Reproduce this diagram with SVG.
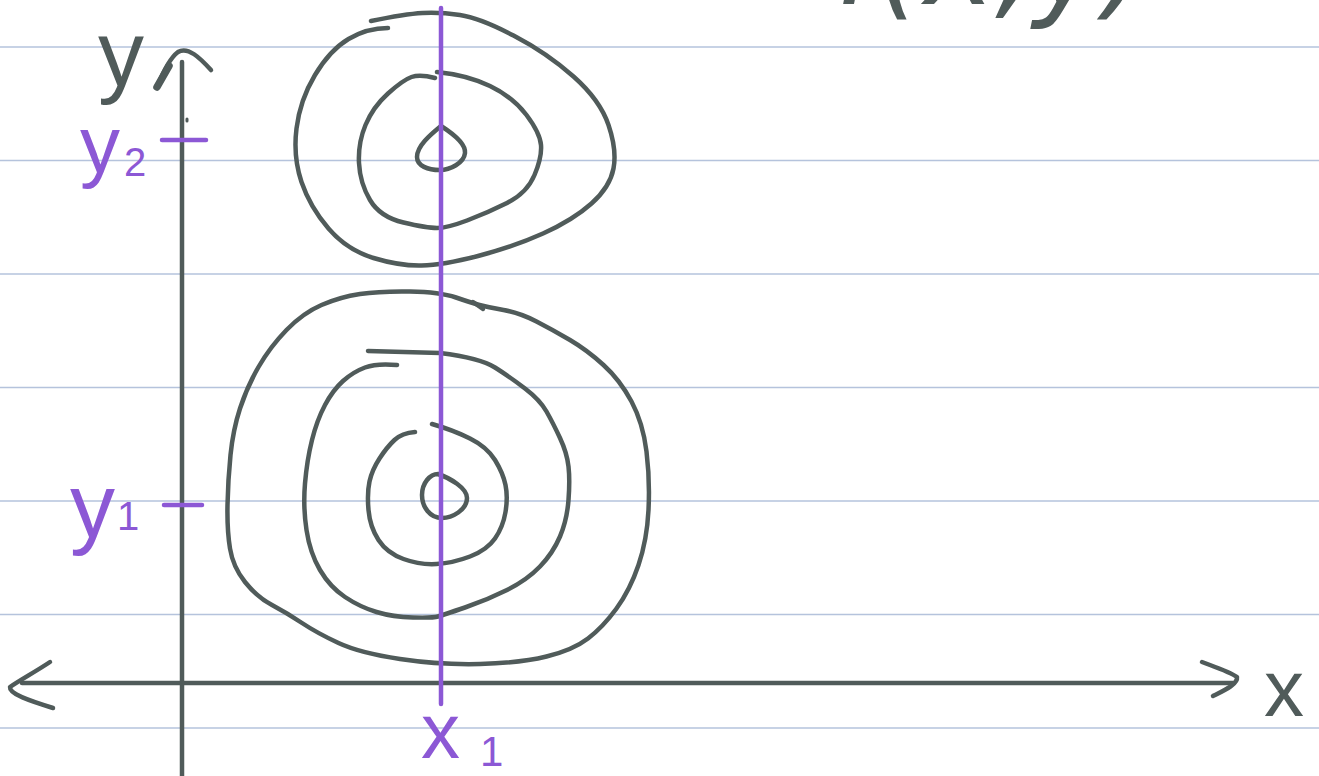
<svg xmlns="http://www.w3.org/2000/svg" width="1319" height="776" viewBox="0 0 1319 776">
  <style>
    .rule { stroke: #b5c3dc; stroke-width: 1.5; fill: none; }
    .ink { stroke: #505b5a; stroke-width: 4.5; fill: none; stroke-linecap: round; stroke-linejoin: round; }
    .violet { stroke: #8c58d5; stroke-width: 4.5; fill: none; stroke-linecap: round; }
    .lbl { font-family: "Liberation Sans", "DejaVu Sans", sans-serif; }
    .lv { fill: #8c58d5; }
    .lg { fill: #505b5a; }
  </style>
  <rect width="1319" height="776" fill="#ffffff"/>

  <g id="ruled-paper">
    <line class="rule" x1="0" y1="47" x2="1319" y2="47"/>
    <line class="rule" x1="0" y1="160.5" x2="1319" y2="160.5"/>
    <line class="rule" x1="0" y1="274" x2="1319" y2="274"/>
    <line class="rule" x1="0" y1="387.5" x2="1319" y2="387.5"/>
    <line class="rule" x1="0" y1="501" x2="1319" y2="501"/>
    <line class="rule" x1="0" y1="614.5" x2="1319" y2="614.5"/>
    <line class="rule" x1="0" y1="728" x2="1319" y2="728"/>
  </g>

  <g id="top-note">
    <text class="lg" x="835" y="4" font-family="DejaVu Sans, sans-serif" font-weight="200" font-style="italic" font-size="120">f(x,y)</text>
  </g>

  <g id="contours-upper">
    <path class="ink" d="M371,21 Q405,14 422.5,13 Q440,12 460,15 Q480,18 513.5,35.5 Q547,53 573.5,76.5 Q600,100 608.5,125 Q617,150 613.5,168.5 Q610,187 591.5,203.5 Q573,220 543,233.5 Q513,247 478,256 Q443,265 421.5,265.5 Q400,266 373.5,258 Q347,250 328.5,228.5 Q310,207 301.5,182 Q293,157 296.5,128.5 Q300,100 315,75 Q330,50 348.5,39 Q367,28 388,28"/>
    <path class="ink" d="M437,72 Q467,75 490,86 Q513,97 526.5,115 Q540,133 541,145 Q542,157 534.5,175 Q527,193 507,203 Q487,213 467,220.5 Q447,228 437,228 Q427,228 403.5,222.5 Q380,217 370,200 Q360,183 359,163 Q358,143 365.5,125 Q373,107 388,93.5 Q403,80 411.5,77 Q420,74 435,78"/>
    <path class="ink" d="M441,126 C452,133 466,143 465,153 C464,163 450,170 440,170 C428,170 417,166 417,157 C417,146 430,135 441,126 Z"/>
  </g>

  <g id="contours-lower">
    <path class="ink" d="M410,291.5 Q380,291 360,294 Q340,297 321.5,305 Q303,313 286.5,330 Q270,347 258.5,367 Q247,387 240,408.5 Q233,430 230.5,455 Q228,480 227.5,505 Q227,530 230,548.5 Q233,567 245,582 Q257,597 272,605 Q287,613 302,623 Q317,633 338.5,643 Q360,653 400,659 Q440,665 480,664 Q520,663 546.5,656.5 Q573,650 588,638.5 Q603,627 616.5,608.5 Q630,590 638.5,565 Q647,540 648.5,510 Q650,480 646.5,451.5 Q643,423 631.5,401.5 Q620,380 603.5,365 Q587,350 570,340 Q553,330 536.5,321.5 Q520,313 503.5,310 Q487,307 479.5,305 Q472,303 456,297.5 Q440,292 410,291.5"/>
    <path class="ink" d="M473,302 L483,309"/>
    <path class="ink" d="M368,351 L440,353 Q480,358 495,367.5 Q510,377 525,388.5 Q540,400 546.5,411.5 Q553,423 560,438 Q567,453 568.5,466.5 Q570,480 568.5,500 Q567,520 560,536.5 Q553,553 540,566.5 Q527,580 507,590 Q487,600 465,607.5 Q443,615 438,616.5 Q433,618 413,617.5 Q393,617 376.5,612 Q360,607 345,597 Q330,587 320,570 Q310,553 306.5,530 Q303,507 305,483.5 Q307,460 312,440 Q317,420 325,405 Q333,390 343,381 Q353,372 365,367.5 Q377,363 397,365"/>
    <path class="ink" d="M432,424 Q453,430 470,438.5 Q487,447 495,460 Q503,473 505.5,485 Q508,497 505.5,512 Q503,527 495,538.5 Q487,550 470,556.5 Q453,563 436.5,564 Q420,565 403.5,559 Q387,553 378.5,540 Q370,527 368.5,510 Q367,493 369.5,481.5 Q372,470 379.5,458.5 Q387,447 394.5,440 Q402,433 415,432"/>
    <path class="ink" d="M438,474 C450,478 467,488 467,498 C467,510 452,518 442,518 C430,518 422,507 422,495 C422,483 430,474 438,474 Z"/>
  </g>

  <g id="axes">
    <path class="ink" d="M182,62 L182,776"/>
    <path class="ink" d="M157,87 C163,72 170,58 178,52 C188,46 200,58 211,70"/>
    <path class="ink" style="stroke-width:7.5" d="M157,87 L169,66"/>
    <path class="ink" style="stroke-width:3" d="M187,119 L187,121"/>
    <path class="ink" d="M22,683 L1233,683"/>
    <path class="ink" d="M50,662 C35,672 20,680 10,687 C9,694 30,701 53,708"/>
    <path class="ink" d="M1202,662 C1215,667 1230,672 1237,677 C1238,684 1225,690 1213,696"/>
    <text class="lbl lg" x="98" y="86" font-size="92">y</text>
    <text class="lbl lg" x="1264" y="716" font-size="80">x</text>
  </g>

  <g id="slice-x1">
    <path class="violet" d="M441,8 L441,704"/>
    <text class="lbl lv" x="421" y="758" font-size="78">x</text>
    <text class="lbl lv" x="480" y="766" font-size="42">1</text>
  </g>

  <g id="tick-y2">
    <path class="violet" d="M162,140 L206,140"/>
    <text class="lbl lv" x="80" y="172" font-size="80">y</text>
    <text class="lbl lv" x="124" y="176" font-size="40">2</text>
  </g>

  <g id="tick-y1">
    <path class="violet" d="M164,505 L202,505"/>
    <text class="lbl lv" x="70" y="537" font-size="90">y</text>
    <text class="lbl lv" x="117" y="530" font-size="40">1</text>
  </g>
</svg>
